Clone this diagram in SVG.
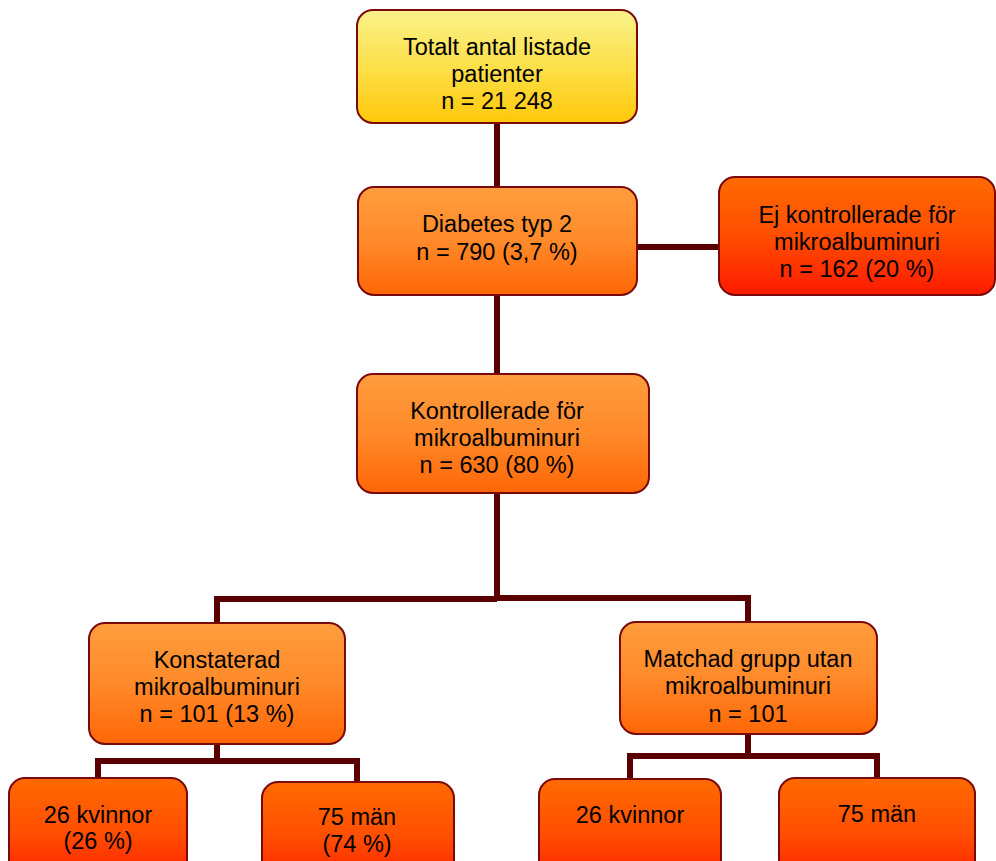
<svg xmlns="http://www.w3.org/2000/svg" width="996" height="861" viewBox="0 0 996 861">
<defs>
<linearGradient id="gY" x1="0" y1="0" x2="0" y2="1">
<stop offset="0" stop-color="#F8F18A"/>
<stop offset="0.5" stop-color="#FDE04A"/>
<stop offset="1" stop-color="#FFC80A"/>
</linearGradient>
<linearGradient id="gO" x1="0" y1="0" x2="0" y2="1">
<stop offset="0" stop-color="#FF9D3E"/>
<stop offset="0.5" stop-color="#FF8A2A"/>
<stop offset="1" stop-color="#FF6606"/>
</linearGradient>
<linearGradient id="gR" x1="0" y1="0" x2="0" y2="1">
<stop offset="0" stop-color="#FF6A00"/>
<stop offset="0.5" stop-color="#FF4E00"/>
<stop offset="1" stop-color="#FF1A00"/>
</linearGradient>
</defs>
<style>
.box{stroke:#7A0A0A;stroke-width:2}
.y{fill:url(#gY)}
.o{fill:url(#gO)}
.r{fill:url(#gR)}
text{font-family:"Liberation Sans",Arial,sans-serif;font-size:23.5px;fill:#000;text-anchor:middle}
.conn{fill:none;stroke:#5A0000;stroke-width:6}
</style>
<rect width="996" height="861" fill="#fff"/>
<g id="connectors">
<path class="conn" d="M497 123V187"/>
<path class="conn" d="M637 247H719"/>
<path class="conn" d="M497 295V374"/>
<path class="conn" d="M497 493V599"/>
<path class="conn" d="M217 623V599H497M497 598H748V622"/>
<path class="conn" d="M217 744V761M98 778V761H357V782"/>
<path class="conn" d="M748 734V756M630 779V756H877V778"/>
</g>
<g id="n1">
<rect class="box y" x="357" y="10" width="280" height="113" rx="16"/>
<text x="497" y="55">Totalt antal listade</text>
<text x="497" y="82">patienter</text>
<text x="497" y="109">n = 21 248</text>
</g>
<g id="n2">
<rect class="box o" x="358" y="187" width="279" height="108" rx="16"/>
<text x="497" y="232">Diabetes typ 2</text>
<text x="497" y="260">n = 790 (3,7 %)</text>
</g>
<g id="n3">
<rect class="box r" x="719" y="177" width="276" height="118" rx="16"/>
<text x="857" y="223">Ej kontrollerade för</text>
<text x="857" y="250">mikroalbuminuri</text>
<text x="857" y="277">n = 162 (20 %)</text>
</g>
<g id="n4">
<rect class="box o" x="357" y="374" width="292" height="119" rx="16"/>
<text x="497" y="419">Kontrollerade för</text>
<text x="497" y="446">mikroalbuminuri</text>
<text x="497" y="473">n = 630 (80 %)</text>
</g>
<g id="n5">
<rect class="box o" x="89" y="623" width="256" height="121" rx="16"/>
<text x="217" y="668">Konstaterad</text>
<text x="217" y="695">mikroalbuminuri</text>
<text x="217" y="722">n = 101 (13 %)</text>
</g>
<g id="n6">
<rect class="box o" x="620" y="622" width="257" height="112" rx="16"/>
<text x="748" y="667">Matchad grupp utan</text>
<text x="748" y="694">mikroalbuminuri</text>
<text x="748" y="722">n = 101</text>
</g>
<g id="n7">
<rect class="box r" x="9" y="778" width="178" height="110" rx="16"/>
<text x="98" y="823">26 kvinnor</text>
<text x="98" y="849">(26 %)</text>
</g>
<g id="n8">
<rect class="box r" x="262" y="782" width="192" height="110" rx="16"/>
<text x="357" y="825">75 män</text>
<text x="357" y="852">(74 %)</text>
</g>
<g id="n9">
<rect class="box r" x="539" y="779" width="182" height="110" rx="16"/>
<text x="630" y="823">26 kvinnor</text>
</g>
<g id="n10">
<rect class="box r" x="779" y="778" width="196" height="110" rx="16"/>
<text x="877" y="822">75 män</text>
</g>
</svg>
